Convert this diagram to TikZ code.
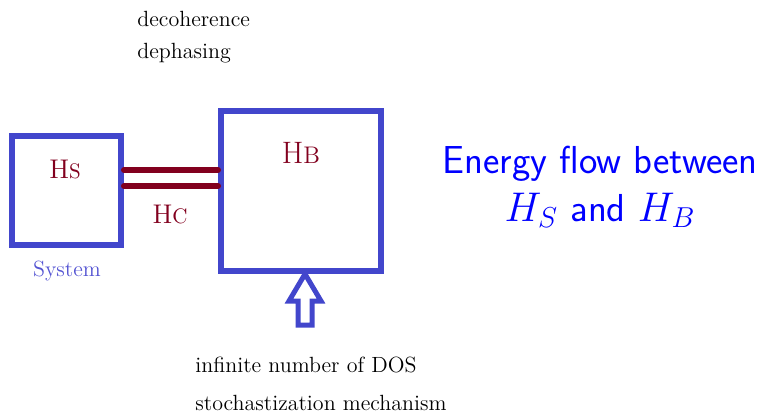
\documentclass[tikz,border=0pt]{standalone}
\usepackage{tikz}
\usetikzlibrary{calc}
\definecolor{boxblue}{RGB}{66,70,204}
\definecolor{lblblue}{RGB}{84,84,210}
\definecolor{hred}{RGB}{130,0,30}
\definecolor{flowblue}{RGB}{0,0,255}
\tikzset{
  hbox/.style={draw=boxblue,line width=3pt,inner sep=0pt},
  hcline/.style={hred,line width=3pt,line cap=round},
  hlbl/.style={hred,font=\fontsize{13.5}{15}\selectfont},
  note/.style={font=\fontsize{11}{13}\selectfont,anchor=west,inner sep=0pt},
  pushline/.style={boxblue,line width=2.5pt,line join=miter},
}
\begin{document}
\begin{tikzpicture}[x=0.5pt,y=-0.5pt]
  \useasboundingbox (0,0) rectangle (763,412);
  \node[hbox,minimum width=54.5pt,minimum height=54.5pt] (sys) at (66.5,190.5) {};
  \node[hbox,minimum width=80pt,minimum height=80pt] (bath) at (301,191) {};
  \draw[hcline] (sys.east |- 0,170) -- (bath.west |- 0,170);
  \draw[hcline] (sys.east |- 0,186) -- (bath.west |- 0,186);
  \node[hlbl] (hs) at (65,170) {H{\fontsize{10.5}{12}\selectfont S}};
  \node[hlbl,font=\fontsize{15.5}{17}\selectfont] (hb) at (301,153) {H{\fontsize{12}{13}\selectfont B}};
  \node[hlbl] (hc) at (170,215) {H{\fontsize{10.5}{12}\selectfont C}};
  \node[lblblue,font=\fontsize{11}{13}\selectfont] (sysl) at (67,271) {System};
  \node[note] (deco) at (137,19) {decoherence};
  \node[note] (deph) at (137,53) {dephasing};
  \coordinate (tip) at (bath.south -| 305,0);
  \draw[pushline] (tip) -- ++(16,27) -- ++(-9,0) -- ++(0,24) -- ++(-14,0)
     -- ++(0,-24) -- ++(-9,0) -- cycle;
  \node[note] (dos) at (195,365) {infinite number of DOS};
  \node[note] (stoch) at (195,403) {stochastization mechanism};
  \node[flowblue,font=\fontsize{19.5}{24}\selectfont\sffamily,align=center] (flow) at (600,187)
     {Energy flow between\\$H_S$ and $H_B$};
\end{tikzpicture}
\end{document}
